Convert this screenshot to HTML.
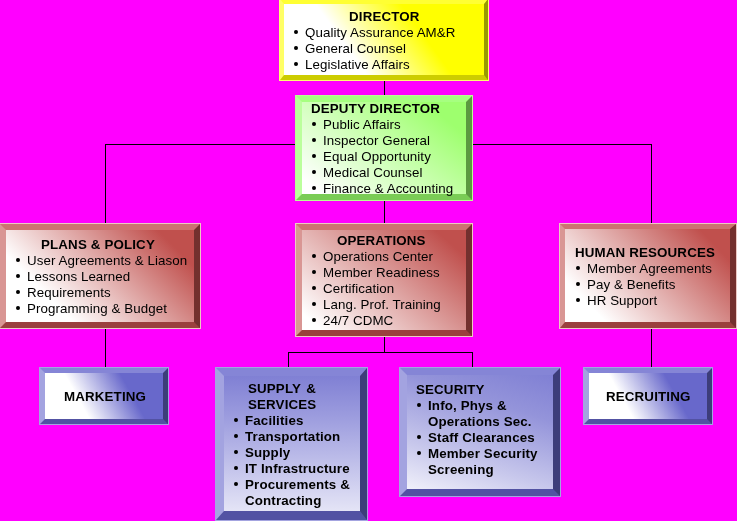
<!DOCTYPE html>
<html>
<head>
<meta charset="utf-8">
<title>Org Chart</title>
<style>
html,body{margin:0;padding:0;}
body{width:737px;height:521px;overflow:hidden;background:#ff00ff;position:relative;
  font-family:"Liberation Sans",sans-serif;font-size:13.33px;line-height:16px;color:#000;}
.ln{position:absolute;background:#000;}
.box{position:absolute;box-sizing:border-box;border-style:solid;border-width:6px;}
.t{will-change:transform;position:absolute;white-space:nowrap;letter-spacing:0.07px;}
.t.bd{font-weight:bold;letter-spacing:0.15px;}
.row{position:relative;height:16px;padding-left:11px;}
.row i{position:absolute;left:0;top:5px;width:4px;height:4px;border-radius:1.9px;background:#000;}
.y{border-color:#ffff33 #999900 #cccc00 #ffff66;outline:1px solid #ffff70;}
.g{border-color:#a6ff80 #5c9940 #7acc55 #bbff9c;outline:1px solid #b8ff94;}
.r{border-color:#cd7371 #73302e #9a403e #d99694;outline:1px solid #ecc8c4;}
.b{border-color:#8585d6 #3d3d7a #5252a3 #a3a3e0;outline:1px solid #a4a4e0;}
</style>
</head>
<body>
<!-- connector lines -->
<div class="ln" style="left:384px;top:80px;width:1px;height:16px;"></div>
<div class="ln" style="left:105px;top:144px;width:547px;height:1px;"></div>
<div class="ln" style="left:105px;top:144px;width:1px;height:80px;"></div>
<div class="ln" style="left:651px;top:144px;width:1px;height:80px;"></div>
<div class="ln" style="left:384px;top:200px;width:1px;height:24px;"></div>
<div class="ln" style="left:105px;top:328px;width:1px;height:40px;"></div>
<div class="ln" style="left:651px;top:327px;width:1px;height:41px;"></div>
<div class="ln" style="left:384px;top:336px;width:1px;height:17px;"></div>
<div class="ln" style="left:288px;top:352px;width:185px;height:1px;"></div>
<div class="ln" style="left:288px;top:352px;width:1px;height:16px;"></div>
<div class="ln" style="left:472px;top:352px;width:1px;height:16px;"></div>

<!-- boxes -->
<div class="box y" style="left:280px;top:-1px;width:208px;height:81px;border-width:5px 4px 5px 4px;background:linear-gradient(54deg,#fff 0%,#fff 33%,#ffff00 67%,#ffff00 100%);"></div>
<div class="box g" style="left:296px;top:96px;width:176px;height:104px;background:linear-gradient(38deg,#fff 0%,#fff 7%,#9eff6e 85%,#9eff6e 100%);"></div>
<div class="box r" style="left:0px;top:224px;width:200px;height:104px;background:linear-gradient(45deg,#fff 0%,#fff 24%,#c0504d 87%,#c0504d 100%);"></div>
<div class="box r" style="left:296px;top:224px;width:176px;height:112px;background:linear-gradient(41deg,#fff 0%,#fff 7%,#c0504d 89%,#c0504d 100%);"></div>
<div class="box r" style="left:560px;top:224px;width:176px;height:104px;border-width:5px 6px 6px 5px;background:linear-gradient(46deg,#fff 0%,#fff 16%,#c0504d 88%,#c0504d 100%);"></div>
<div class="box b" style="left:40px;top:368px;width:128px;height:56px;border-width:5px;background:linear-gradient(61deg,#fff 0%,#fff 31%,#6868cb 70%,#6868cb 100%);"></div>
<div class="box b bv" style="left:216px;top:368px;width:151px;height:152px;border-width:8px 7px 9px 8px;background:linear-gradient(to bottom,#8080d4 0%,#9c9cde 30%,#e4e4f6 100%);"></div>
<div class="box b bs" style="left:400px;top:368px;width:160px;height:128px;border-width:7px;background:linear-gradient(18deg,#f0f0fa 0%,#c8c8ec 29%,#9494da 71%,#8080d4 100%);"></div>
<div class="box b" style="left:584px;top:368px;width:128px;height:56px;border-width:5px;background:linear-gradient(61deg,#fff 0%,#fff 31%,#6868cb 70%,#6868cb 100%);"></div>

<!-- DIRECTOR -->
<div class="t bd" style="left:349px;top:9px;">DIRECTOR</div>
<div class="t" style="left:294px;top:25px;">
  <div class="row"><i></i>Quality Assurance AM&amp;R</div>
  <div class="row"><i></i>General Counsel</div>
  <div class="row"><i></i>Legislative Affairs</div>
</div>

<!-- DEPUTY DIRECTOR -->
<div class="t bd" style="left:311px;top:101px;">DEPUTY DIRECTOR</div>
<div class="t" style="left:312px;top:117px;">
  <div class="row"><i></i>Public Affairs</div>
  <div class="row"><i></i>Inspector General</div>
  <div class="row"><i></i>Equal Opportunity</div>
  <div class="row"><i></i>Medical Counsel</div>
  <div class="row"><i></i>Finance &amp; Accounting</div>
</div>

<!-- PLANS & POLICY -->
<div class="t bd" style="left:41px;top:237px;">PLANS &amp; POLICY</div>
<div class="t" style="left:16px;top:253px;">
  <div class="row"><i></i>User Agreements &amp; Liason</div>
  <div class="row"><i></i>Lessons Learned</div>
  <div class="row"><i></i>Requirements</div>
  <div class="row"><i></i>Programming &amp; Budget</div>
</div>

<!-- OPERATIONS -->
<div class="t bd" style="left:337px;top:233px;">OPERATIONS</div>
<div class="t" style="left:312px;top:249px;">
  <div class="row"><i></i>Operations Center</div>
  <div class="row"><i></i>Member Readiness</div>
  <div class="row"><i></i>Certification</div>
  <div class="row"><i></i>Lang. Prof. Training</div>
  <div class="row"><i></i>24/7 CDMC</div>
</div>

<!-- HUMAN RESOURCES -->
<div class="t bd" style="left:575px;top:245px;">HUMAN RESOURCES</div>
<div class="t" style="left:576px;top:261px;">
  <div class="row"><i></i>Member Agreements</div>
  <div class="row"><i></i>Pay &amp; Benefits</div>
  <div class="row"><i></i>HR Support</div>
</div>

<!-- MARKETING -->
<div class="t bd" style="left:64px;top:389px;">MARKETING</div>

<!-- SUPPLY & SERVICES -->
<div class="t bd" style="left:248px;top:381px;">SUPPLY<span style="letter-spacing:1.6px"> </span>&amp;<br>SERVICES</div>
<div class="t bd" style="left:234px;top:413px;">
  <div class="row"><i></i>Facilities</div>
  <div class="row"><i></i>Transportation</div>
  <div class="row"><i></i>Supply</div>
  <div class="row"><i></i>IT Infrastructure</div>
  <div class="row"><i></i>Procurements &amp;</div>
  <div class="row">Contracting</div>
</div>

<!-- SECURITY -->
<div class="t bd" style="left:416px;top:382px;">SECURITY</div>
<div class="t bd" style="left:417px;top:398px;">
  <div class="row"><i></i>Info, Phys &amp;</div>
  <div class="row">Operations Sec.</div>
  <div class="row"><i></i>Staff Clearances</div>
  <div class="row"><i></i>Member Security</div>
  <div class="row">Screening</div>
</div>

<!-- RECRUITING -->
<div class="t bd" style="left:606px;top:389px;">RECRUITING</div>
</body>
</html>
